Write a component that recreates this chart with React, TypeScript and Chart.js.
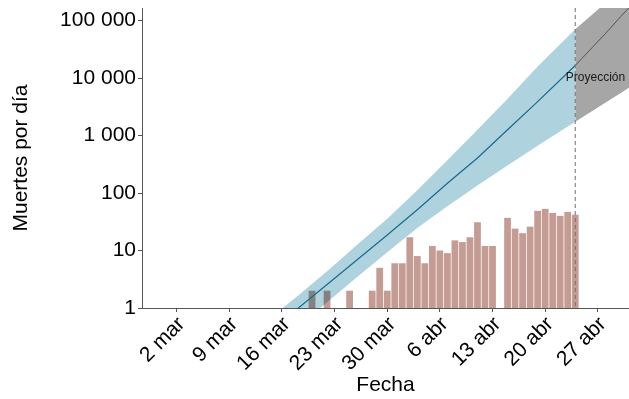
import React, { useEffect, useRef } from "react";
import { Chart, registerables } from "chart.js";

Chart.register(...registerables);

// ---- Data ----
const barDates = [
  "2020-03-20", "2020-03-22", "2020-03-25", "2020-03-28", "2020-03-29", "2020-03-30",
  "2020-03-31", "2020-04-01", "2020-04-02", "2020-04-03", "2020-04-04", "2020-04-05",
  "2020-04-06", "2020-04-07", "2020-04-08", "2020-04-09", "2020-04-10", "2020-04-11",
  "2020-04-12", "2020-04-13", "2020-04-15", "2020-04-16", "2020-04-17", "2020-04-18",
  "2020-04-19", "2020-04-20", "2020-04-21", "2020-04-22", "2020-04-23", "2020-04-24",
];
const barValues = [
  2, 2, 2, 2, 5, 2,
  6, 6, 17, 8, 6, 12,
  10, 9, 15, 14, 17, 31,
  12, 12, 37, 24, 20, 26,
  49, 53, 45, 40, 47, 42,
];

const modelDates = [
  "2020-03-14", "2020-03-18", "2020-03-22", "2020-03-26", "2020-03-30", "2020-04-03",
  "2020-04-07", "2020-04-11", "2020-04-15", "2020-04-19", "2020-04-24",
];
const modelMid = [0.355, 0.955, 2.57, 6.92, 18.6, 51.3, 148, 407, 1260, 3890, 16500];
const modelUpper = [0.603, 1.585, 4.37, 12.6, 35.5, 112, 372, 1260, 4370, 15800, 70800];
const modelLower = [0.155, 0.447, 1.26, 3.47, 9.3, 24.5, 58.9, 135, 302, 661, 1740];

const projDates = ["2020-04-24", "2020-04-28", "2020-05-02"];
const projMid = [16500, 59000, 223000];
const projUpper = [70800, 200000, 600000];
const projLower = [1740, 3700, 8000];

const xTickDates = [
  "2020-03-02", "2020-03-09", "2020-03-16", "2020-03-23", "2020-03-30",
  "2020-04-06", "2020-04-13", "2020-04-20", "2020-04-27",
];
const xTickLabels = ["2 mar", "9 mar", "16 mar", "23 mar", "30 mar", "6 abr", "13 abr", "20 abr", "27 abr"];
const yTickValues = [1, 10, 100, 1000, 10000, 100000];
const yTickLabels = ["1", "10", "100", "1 000", "10 000", "100 000"];

const projectionStart = "2020-04-24";
const projectionText = "Proyección";
const xTitle = "Fecha";
const yTitle = "Muertes por día";

// ---- helpers ----
const ORIGIN = Date.UTC(2020, 2, 1);
function dayIndex(s: string): number {
  const [y, m, d] = s.split("-").map(Number);
  return (Date.UTC(y, m - 1, d) - ORIGIN) / 86400000;
}
function pts(dates: string[], vals: number[]) {
  return dates.map((d, i) => ({ x: dayIndex(d), y: vals[i] }));
}

const FONT = '"Liberation Sans", Arial, Helvetica, sans-serif';
const BAND = "#afd3de";
const GRAYBAND = "#a6a6a6";
const AXIS = "#555555";

export default function App() {
  const ref = useRef<HTMLCanvasElement | null>(null);

  useEffect(() => {
    document.body.style.margin = "0";
    const canvas = ref.current;
    if (!canvas) return;

    const projPlugin = {
      id: "projPlugin",
      beforeDatasetDraw(chart: any, args: any) {
        if (args.meta.type === "bar") {
          chart.ctx.save();
          chart.ctx.globalCompositeOperation = "multiply";
        }
      },
      afterDatasetDraw(chart: any, args: any) {
        if (args.meta.type === "bar") chart.ctx.restore();
      },
      afterDatasetsDraw(chart: any) {
        const { ctx, chartArea, scales } = chart;
        const x = scales.x.getPixelForValue(dayIndex(projectionStart));
        ctx.save();
        ctx.strokeStyle = "#707070";
        ctx.lineWidth = 1;
        ctx.setLineDash([4, 3]);
        ctx.beginPath();
        ctx.moveTo(x, chartArea.top);
        ctx.lineTo(x, chartArea.bottom);
        ctx.stroke();
        ctx.setLineDash([]);
        ctx.fillStyle = "#1a1a1a";
        ctx.font = `12px ${FONT}`;
        ctx.textAlign = "center";
        ctx.textBaseline = "middle";
        ctx.fillText(
          projectionText,
          scales.x.getPixelForValue(dayIndex(projectionStart) + 2.7),
          scales.y.getPixelForValue(10000)
        );
        ctx.restore();
      },
    };

    const chart = new Chart(canvas, {
      type: "bar",
      data: {
        datasets: [
          {
            type: "line",
            data: pts(modelDates, modelMid),
            borderColor: "#176a8c",
            borderWidth: 1.2,
            pointRadius: 0,
            fill: false,
          } as any,
          {
            type: "line",
            data: pts(projDates, projMid),
            borderColor: "#555555",
            borderWidth: 1,
            pointRadius: 0,
            fill: false,
          },
          {
            type: "line",
            data: pts(modelDates, modelUpper),
            borderWidth: 0,
            borderColor: "rgba(0,0,0,0)",
            backgroundColor: BAND,
            pointRadius: 0,
            fill: "+1",
          },
          {
            type: "line",
            data: pts(modelDates, modelLower),
            borderWidth: 0,
            borderColor: "rgba(0,0,0,0)",
            pointRadius: 0,
            fill: false,
          },
          {
            type: "line",
            data: pts(projDates, projUpper),
            borderWidth: 0,
            borderColor: "rgba(0,0,0,0)",
            backgroundColor: GRAYBAND,
            pointRadius: 0,
            fill: "+1",
          },
          {
            type: "line",
            data: pts(projDates, projLower),
            borderWidth: 0,
            borderColor: "rgba(0,0,0,0)",
            pointRadius: 0,
            fill: false,
          },
          {
            type: "bar",
            data: pts(barDates, barValues),
            backgroundColor: "#c49c94",
            borderWidth: 0,
            barPercentage: 1,
            categoryPercentage: 0.9,
          },
        ],
      },
      options: {
        responsive: false,
        animation: false,
        layout: { padding: { top: 8, left: 0, right: 0, bottom: 0 } },
        plugins: {
          legend: { display: false },
          tooltip: { enabled: false },
          filler: { drawTime: "beforeDatasetsDraw" },
        } as any,
        scales: {
          x: {
            type: "linear",
            offset: false,
            min: dayIndex("2020-02-26") + 0.39,
            max: dayIndex("2020-05-01") + 0.15,
            grid: {
              offset: false,
              drawOnChartArea: false,
              drawTicks: true,
              tickLength: 4,
              color: AXIS,
            },
            border: { display: true, color: AXIS, width: 1 },
            afterBuildTicks: (scale: any) => {
              scale.ticks = xTickDates.map((d) => ({ value: dayIndex(d) }));
            },
            afterFit: (scale: any) => {
              scale.height = 91;
              scale.paddingLeft = 0;
              scale.paddingRight = 0;
            },
            ticks: {
              autoSkip: false,
              minRotation: 45,
              maxRotation: 45,
              padding: 0,
              labelOffset: 5,
              color: "#000",
              font: { family: FONT, size: 21 },
              callback: (_v: any, i: number) => xTickLabels[i],
            },
            title: {
              display: true,
              text: xTitle,
              color: "#000",
              font: { family: FONT, size: 21 },
              padding: { top: 0, bottom: 1 },
            },
          },
          y: {
            type: "logarithmic",
            min: 1,
            max: 165000,
            grid: {
              drawOnChartArea: false,
              drawTicks: true,
              tickLength: 4,
              color: AXIS,
            },
            border: { display: true, color: AXIS, width: 1 },
            afterBuildTicks: (scale: any) => {
              scale.ticks = yTickValues.map((v) => ({ value: v }));
            },
            afterFit: (scale: any) => {
              scale.width = 142;
              scale.paddingTop = 0;
              scale.paddingBottom = 0;
            },
            ticks: {
              padding: 2,
              color: "#000",
              font: { family: FONT, size: 21 },
              callback: (_v: any, i: number) => yTickLabels[i],
            },
            title: {
              display: true,
              text: yTitle,
              color: "#000",
              font: { family: FONT, size: 21 },
              padding: { top: 9, bottom: 0 },
            },
          },
        },
      },
      plugins: [projPlugin],
    } as any);

    return () => chart.destroy();
  }, []);

  return (
    <div style={{ position: "absolute", left: 0, top: 0, width: 629, height: 399 }}>
      <canvas ref={ref} width={629} height={399} />
    </div>
  );
}
